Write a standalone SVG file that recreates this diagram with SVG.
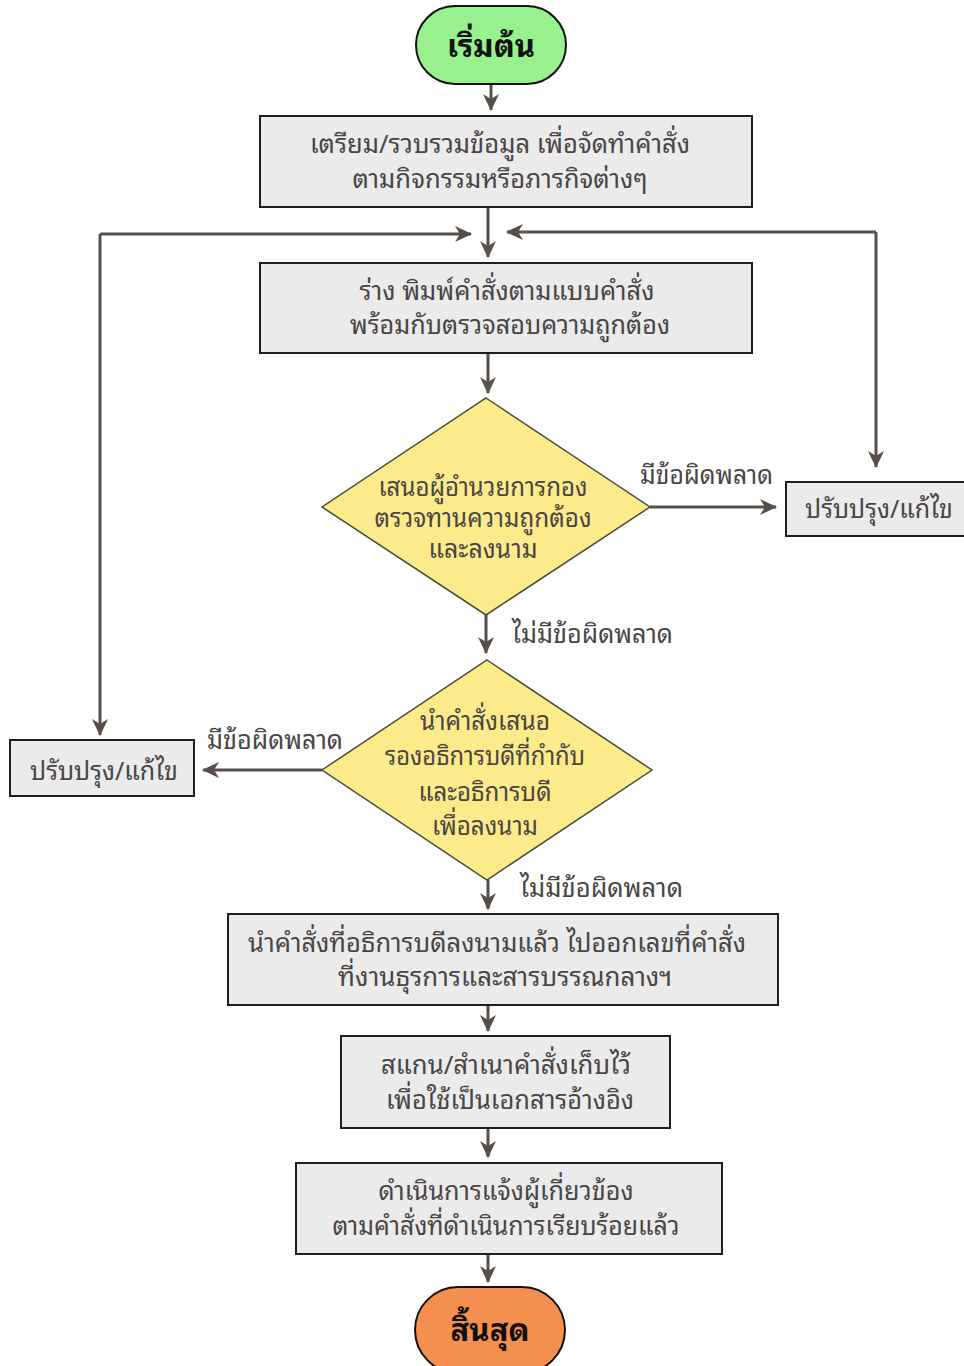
<svg xmlns="http://www.w3.org/2000/svg" width="964" height="1366" viewBox="0 0 964 1366">
<defs>
<marker id="ah" markerUnits="userSpaceOnUse" markerWidth="18" markerHeight="18" viewBox="0 0 18 18" refX="16" refY="9" orient="auto">
<path d="M0,1 L17,9 L0,17 L5,9 Z" fill="#574e4a"/>
</marker>
<style>
.box{fill:#ebebeb;stroke:#1e1e1e;stroke-width:2}
.dia{fill:#fbeb8a;stroke:#4e4a3a;stroke-width:1.5}
.t{font-family:"Noto Sans Thai Looped","Noto Serif Thai","Garuda","Loma","Noto Sans Thai","Noto Sans",sans-serif;font-size:26px;fill:#4a4545;text-anchor:middle}
.lb{font-family:"Noto Sans Thai Looped","Noto Serif Thai","Garuda","Loma","Noto Sans Thai","Noto Sans",sans-serif;font-size:26px;fill:#4a4545}
.tb{font-family:"Noto Sans Thai Looped","Noto Serif Thai","Garuda","Loma","Noto Sans Thai","Noto Sans",sans-serif;font-size:31px;font-weight:bold;fill:#111;text-anchor:middle}
.c{fill:none;stroke:#574e4a;stroke-width:3}
</style>
</defs>
<rect width="964" height="1366" fill="#ffffff"/>

<g id="connectors">
<path class="c" d="M491,84 V110" marker-end="url(#ah)"/>
<path class="c" d="M488,207 V257" marker-end="url(#ah)"/>
<path class="c" d="M100,234 H471" marker-end="url(#ah)"/>
<path class="c" d="M876,232 H507" marker-end="url(#ah)"/>
<path class="c" d="M876,232 V467" marker-end="url(#ah)"/>
<path class="c" d="M100,234 V735" marker-end="url(#ah)"/>
<path class="c" d="M488,353 V393" marker-end="url(#ah)"/>
<path class="c" d="M650,507 H776" marker-end="url(#ah)"/>
<path class="c" d="M486,615 V653" marker-end="url(#ah)"/>
<path class="c" d="M322,770 H203" marker-end="url(#ah)"/>
<path class="c" d="M488,880 V909" marker-end="url(#ah)"/>
<path class="c" d="M488,1005 V1031" marker-end="url(#ah)"/>
<path class="c" d="M488,1128 V1157" marker-end="url(#ah)"/>
<path class="c" d="M488,1254 V1282" marker-end="url(#ah)"/>
<text class="lb" x="640" y="484" textLength="133" lengthAdjust="spacingAndGlyphs">มีข้อผิดพลาด</text>
<text class="lb" x="512" y="643" textLength="161" lengthAdjust="spacingAndGlyphs">ไม่มีข้อผิดพลาด</text>
<text class="lb" x="207" y="749" textLength="136" lengthAdjust="spacingAndGlyphs">มีข้อผิดพลาด</text>
<text class="lb" x="520" y="897" textLength="163" lengthAdjust="spacingAndGlyphs">ไม่มีข้อผิดพลาด</text>
</g>

<g id="start">
<rect x="416" y="6" width="150" height="78" rx="39" ry="39" fill="#99f08f" stroke="#111" stroke-width="2"/>
<text class="tb" x="491" y="57">เริ่มต้น</text>
</g>

<g id="prepare">
<rect class="box" x="260" y="116" width="492" height="91"/>
<text class="t" x="500" y="153" textLength="380" lengthAdjust="spacingAndGlyphs">เตรียม/รวบรวมข้อมูล เพื่อจัดทำคำสั่ง</text>
<text class="t" x="500" y="188" textLength="295" lengthAdjust="spacingAndGlyphs">ตามกิจกรรมหรือภารกิจต่างๆ</text>
</g>

<g id="draft">
<rect class="box" x="260" y="263" width="492" height="90"/>
<text class="t" x="507" y="300" textLength="295" lengthAdjust="spacingAndGlyphs">ร่าง พิมพ์คำสั่งตามแบบคำสั่ง</text>
<text class="t" x="510" y="334" textLength="320" lengthAdjust="spacingAndGlyphs">พร้อมกับตรวจสอบความถูกต้อง</text>
</g>

<g id="decision1">
<polygon class="dia" points="486,398 650,507 486,615 322,507"/>
<text class="t" x="483" y="496" textLength="209" lengthAdjust="spacingAndGlyphs">เสนอผู้อำนวยการกอง</text>
<text class="t" x="483" y="527" textLength="217" lengthAdjust="spacingAndGlyphs">ตรวจทานความถูกต้อง</text>
<text class="t" x="483" y="558" textLength="109" lengthAdjust="spacingAndGlyphs">และลงนาม</text>
</g>

<g id="fix-right">
<rect class="box" x="786" y="482" width="184" height="54"/>
<text class="t" x="879" y="518" textLength="148" lengthAdjust="spacingAndGlyphs">ปรับปรุง/แก้ไข</text>
</g>

<g id="decision2">
<polygon class="dia" points="487,660 652,770 487,880 322,770"/>
<text class="t" x="485" y="730" textLength="130" lengthAdjust="spacingAndGlyphs">นำคำสั่งเสนอ</text>
<text class="t" x="485" y="765" textLength="200" lengthAdjust="spacingAndGlyphs">รองอธิการบดีที่กำกับ</text>
<text class="t" x="485" y="801" textLength="133" lengthAdjust="spacingAndGlyphs">และอธิการบดี</text>
<text class="t" x="485" y="835" textLength="106" lengthAdjust="spacingAndGlyphs">เพื่อลงนาม</text>
</g>

<g id="fix-left">
<rect class="box" x="10" y="740" width="184" height="56"/>
<text class="t" x="104" y="780" textLength="148" lengthAdjust="spacingAndGlyphs">ปรับปรุง/แก้ไข</text>
</g>

<g id="number">
<rect class="box" x="228" y="914" width="550" height="91"/>
<text class="t" x="497" y="952" textLength="498" lengthAdjust="spacingAndGlyphs">นำคำสั่งที่อธิการบดีลงนามแล้ว ไปออกเลขที่คำสั่ง</text>
<text class="t" x="505" y="986" textLength="334" lengthAdjust="spacingAndGlyphs">ที่งานธุรการและสารบรรณกลางฯ</text>
</g>

<g id="scan">
<rect class="box" x="341" y="1036" width="329" height="92"/>
<text class="t" x="506" y="1074" textLength="250" lengthAdjust="spacingAndGlyphs">สแกน/สำเนาคำสั่งเก็บไว้</text>
<text class="t" x="510" y="1109" textLength="248" lengthAdjust="spacingAndGlyphs">เพื่อใช้เป็นเอกสารอ้างอิง</text>
</g>

<g id="notify">
<rect class="box" x="296" y="1163" width="426" height="91"/>
<text class="t" x="506" y="1200" textLength="255" lengthAdjust="spacingAndGlyphs">ดำเนินการแจ้งผู้เกี่ยวข้อง</text>
<text class="t" x="506" y="1235" textLength="347" lengthAdjust="spacingAndGlyphs">ตามคำสั่งที่ดำเนินการเรียบร้อยแล้ว</text>
</g>

<g id="end">
<rect x="415" y="1287" width="150" height="86" rx="43" ry="43" fill="#f58f4f" stroke="#111" stroke-width="2"/>
<text class="tb" x="490" y="1341">สิ้นสุด</text>
</g>
</svg>
